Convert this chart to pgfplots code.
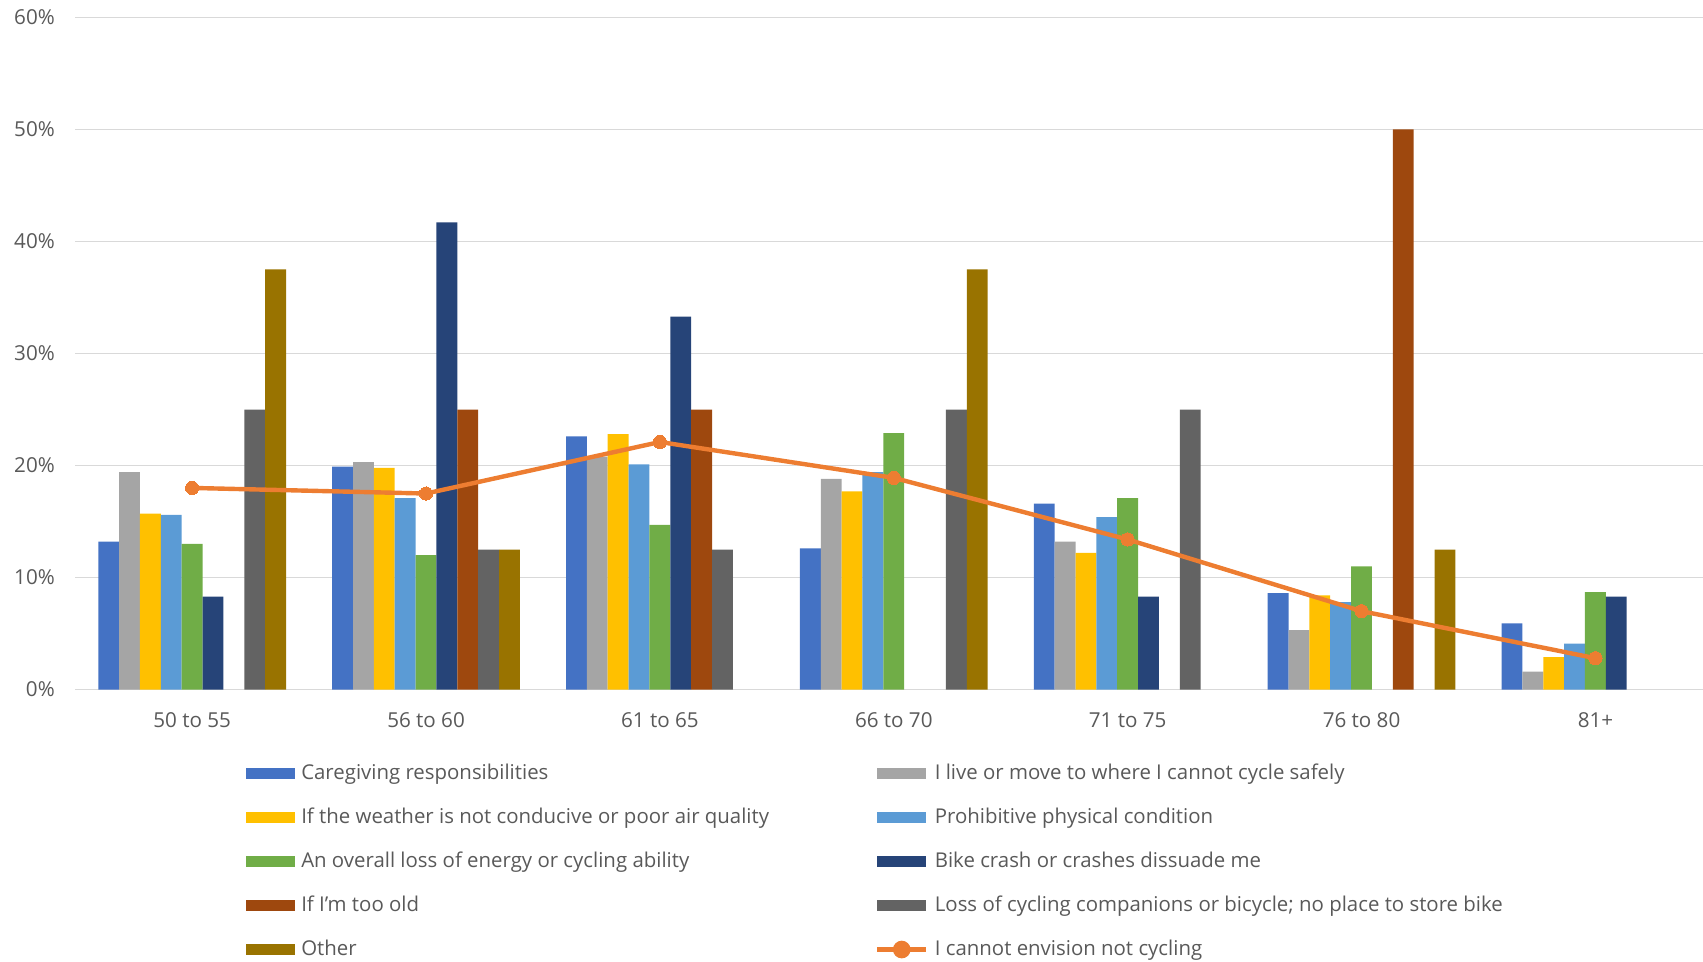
\documentclass[border=0pt]{standalone}
\usepackage{pgfplots}
\pgfplotsset{compat=1.18}
\usepackage{fontspec}
\setmainfont{Open Sans}
\definecolor{c1}{HTML}{4472C4}
\definecolor{c2}{HTML}{A5A5A5}
\definecolor{c3}{HTML}{FFC000}
\definecolor{c4}{HTML}{5B9BD5}
\definecolor{c5}{HTML}{70AD47}
\definecolor{c6}{HTML}{264478}
\definecolor{c7}{HTML}{9E480E}
\definecolor{c8}{HTML}{636363}
\definecolor{c9}{HTML}{997300}
\definecolor{cl}{HTML}{ED7D31}
\definecolor{gridc}{HTML}{D9D9D9}
\definecolor{txt}{HTML}{595959}
\begin{document}
\begin{tikzpicture}
\path[use as bounding box] (0,0) rectangle (851.5pt,481pt);
\begin{axis}[
  at={(37.6pt,136.2pt)}, anchor=south west,
  scale only axis, width=813.9pt, height=336.1pt,
  xmin=-0.5, xmax=6.46, ymin=0, ymax=60,
  ytick={0,10,...,60},
  yticklabel={\pgfmathprintnumber{\tick}\%},
  xtick={0,...,6},
  xticklabels={50 to 55,56 to 60,61 to 65,66 to 70,71 to 75,76 to 80,81+},
  /pgf/number format/assume math mode=true,
  ymajorgrids, grid style={gridc, line width=0.8pt},
  axis line style={draw=none},
  major tick length=0pt,
  tick label style={font=\fontsize{10.3}{12}\selectfont, text=txt},
  xticklabel style={yshift=-8pt},
  yticklabel style={xshift=-6.7pt},
  legend columns=2,
  legend cell align=left,
  legend style={draw=none, fill=none, inner sep=0pt,
    at={(axis description cs:0.1046,-0.1079)}, anchor=north west,
    font=\fontsize{10.2}{12}\selectfont, text=txt,
    nodes={inner sep=0pt, text height=8.5pt, text depth=2.5pt},
    row sep=11pt,
    /tikz/every even column/.append style={column sep=53pt}},
  legend image code/.code={\fill[#1,draw=none] (0pt,-2.75pt) rectangle (24.5pt,2.75pt); \path (27.7pt,0pt);},
]
\addplot[ybar, bar width=0.0892, bar shift=-0.3568, fill=c1, draw=none] coordinates {(0,13.2) (1,19.9) (2,22.6) (3,12.6) (4,16.6) (5,8.6) (6,5.9)};
\addlegendentry{Caregiving responsibilities}
\addplot[ybar, bar width=0.0892, bar shift=-0.2676, fill=c2, draw=none] coordinates {(0,19.4) (1,20.3) (2,20.8) (3,18.8) (4,13.2) (5,5.3) (6,1.6)};
\addlegendentry{I live or move to where I cannot cycle safely}
\addplot[ybar, bar width=0.0892, bar shift=-0.1784, fill=c3, draw=none] coordinates {(0,15.7) (1,19.8) (2,22.8) (3,17.7) (4,12.2) (5,8.4) (6,2.9)};
\addlegendentry{If the weather is not conducive or poor air quality}
\addplot[ybar, bar width=0.0892, bar shift=-0.0892, fill=c4, draw=none] coordinates {(0,15.6) (1,17.1) (2,20.1) (3,19.4) (4,15.4) (5,7.8) (6,4.1)};
\addlegendentry{Prohibitive physical condition}
\addplot[ybar, bar width=0.0892, bar shift=0, fill=c5, draw=none] coordinates {(0,13.0) (1,12.0) (2,14.7) (3,22.9) (4,17.1) (5,11.0) (6,8.7)};
\addlegendentry{An overall loss of energy or cycling ability}
\addplot[ybar, bar width=0.0892, bar shift=0.0892, fill=c6, draw=none] coordinates {(0,8.3) (1,41.7) (2,33.3) (4,8.3) (6,8.3)};
\addlegendentry{Bike crash or crashes dissuade me}
\addplot[ybar, bar width=0.0892, bar shift=0.1784, fill=c7, draw=none] coordinates {(1,25) (2,25) (5,50)};
\addlegendentry{If I'm too old}
\addplot[ybar, bar width=0.0892, bar shift=0.2676, fill=c8, draw=none] coordinates {(0,25) (1,12.5) (2,12.5) (3,25) (4,25)};
\addlegendentry{Loss of cycling companions or bicycle; no place to store bike}
\addplot[ybar, bar width=0.0892, bar shift=0.3568, fill=c9, draw=none] coordinates {(0,37.5) (1,12.5) (3,37.5) (5,12.5)};
\addlegendentry{Other}
\addplot[cl, line width=2.2pt, mark=*, mark size=3.3pt, mark options={fill=cl, draw=cl, line width=0pt},
  legend image code/.code={\draw[cl, line width=2.2pt] (0pt,0pt) -- (24.5pt,0pt); \fill[cl] (12.25pt,0pt) circle (3.3pt); \path (27.7pt,0pt);}]
  coordinates {(0,18.0) (1,17.5) (2,22.1) (3,18.9) (4,13.4) (5,7.0) (6,2.8)};
\addlegendentry{I cannot envision not cycling}
\end{axis}
\end{tikzpicture}
\end{document}
